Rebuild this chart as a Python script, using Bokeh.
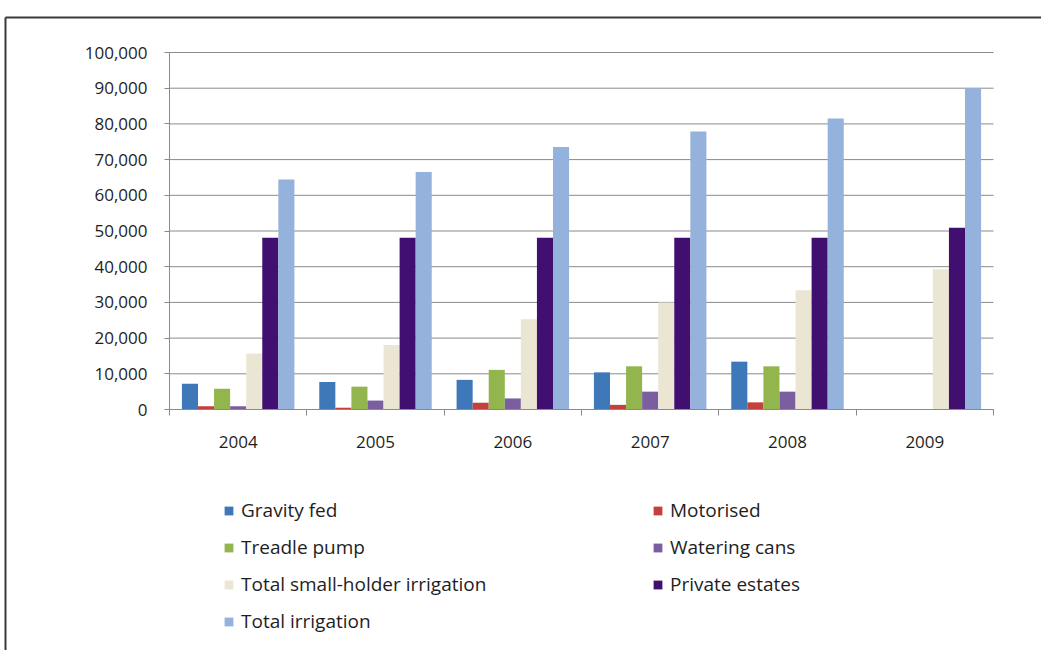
from bokeh.plotting import figure
from bokeh.models import (ColumnDataSource, FixedTicker, NumeralTickFormatter,
                          Legend, LegendItem)
from bokeh.transform import dodge
from bokeh.embed import file_html
from bokeh.resources import INLINE

# ---------------- data ----------------
years = ["2004", "2005", "2006", "2007", "2008", "2009"]
gravity_fed = [7200, 7700, 8300, 10400, 13400, 0]
motorised = [900, 500, 1900, 1300, 2000, 0]
treadle_pump = [5800, 6400, 11100, 12100, 12100, 0]
watering_cans = [900, 2500, 3100, 5000, 5000, 0]
small_holder = [15700, 18100, 25300, 30000, 33400, 39300]
private_estates = [48100, 48100, 48100, 48100, 48100, 50900]
total_irrigation = [64400, 66500, 73500, 77900, 81500, 90000]
y_ticks = [0, 10000, 20000, 30000, 40000, 50000, 60000, 70000, 80000, 90000, 100000]

series_names = ["Gravity fed", "Motorised", "Treadle pump", "Watering cans",
                "Total small-holder irrigation", "Private estates", "Total irrigation"]
series_values = [gravity_fed, motorised, treadle_pump, watering_cans,
                 small_holder, private_estates, total_irrigation]
series_colors = ["#3f78b9", "#c4403c", "#93b54e", "#7a5ea0",
                 "#ebe5d4", "#400f6f", "#94b2dc"]

FONT = "Open Sans"

# ---------------- layout (pixels) ----------------
W, H = 1041, 650
PLOT_L, PLOT_R, PLOT_T, ZERO_Y = 169, 993, 52, 409
BORDER_X, BORDER_Y = 5, 17
n = len(years)
x_lo, x_hi = -0.5, n - 0.5
ppx = (PLOT_R - PLOT_L) / (x_hi - x_lo)
x_min = x_lo - PLOT_L / ppx
x_max = x_hi + (W - PLOT_R) / ppx
y_top = y_ticks[-1]
ppy = (ZERO_Y - PLOT_T) / y_top
y_max = y_top + PLOT_T / ppy
y_min = -(H - ZERO_Y) / ppy

def px_to_x(px):
    return x_min + px / ppx

def py_to_y(py):
    return y_max - py / ppy

xs = list(range(n))
data = {"x": xs}
keys = []
for i, vals in enumerate(series_values):
    k = "s%d" % i
    keys.append(k)
    data[k] = vals
source = ColumnDataSource(data)

p = figure(width=W, height=H, x_range=(x_min, x_max), y_range=(y_min, y_max),
           output_backend="svg", toolbar_location=None,
           min_border_left=0, min_border_right=0, min_border_top=0, min_border_bottom=0)
p.border_fill_color = "white"
p.background_fill_color = "white"
p.outline_line_color = None
p.xgrid.visible = False
p.ygrid.visible = False

# outer frame of the picture (left and top edges)
bx, by = px_to_x(BORDER_X), py_to_y(BORDER_Y)
p.segment(x0=[bx, bx], y0=[by, by], x1=[x_max + 1, bx], y1=[by, y_min - 10000],
          line_color="#3a3a3a", line_width=2)

# horizontal gridlines across the plot area
p.segment(x0=[x_lo] * len(y_ticks), x1=[x_hi] * len(y_ticks), y0=y_ticks, y1=y_ticks,
          line_color="#8a8a8a", line_width=1)

bw = 0.117
renderers = []
for i, k in enumerate(keys):
    off = (i - 3) * bw
    r = p.vbar(x=dodge("x", off, range=p.x_range), top=k, width=bw, bottom=0,
               source=source, fill_color=series_colors[i], line_color=None)
    renderers.append(r)

# y axis at the left edge of the groups
ya = p.yaxis[0]
ya.fixed_location = x_lo
ya.bounds = (0, y_top)
ya.ticker = FixedTicker(ticks=y_ticks)
ya.formatter = NumeralTickFormatter(format="0,0")
ya.axis_line_color = "#8a8a8a"
ya.major_tick_line_color = "#8a8a8a"
ya.major_tick_in = 0
ya.major_tick_out = 5
ya.minor_tick_line_color = None
ya.major_label_standoff = 17
ya.major_label_text_font = FONT
ya.major_label_text_font_size = "17px"
ya.major_label_text_color = "#1e1e1e"

# x axis at value 0: labels at group centres, ticks at group boundaries
bounds = [i - 0.5 for i in range(n + 1)]
xa = p.xaxis[0]
xa.fixed_location = 0
xa.bounds = (x_lo, x_hi)
xa.ticker = FixedTicker(ticks=xs, minor_ticks=bounds)
xa.major_label_overrides = {i: y for i, y in zip(xs, years)}
xa.major_tick_line_color = None
xa.major_tick_in = 0
xa.major_tick_out = 0
xa.minor_tick_line_color = "#8a8a8a"
xa.minor_tick_in = 0
xa.minor_tick_out = 6
xa.axis_line_color = "#8a8a8a"
xa.major_label_standoff = 20
xa.major_label_text_font = FONT
xa.major_label_text_font_size = "17px"
xa.major_label_text_color = "#1e1e1e"

def make_legend(idx, loc):
    return Legend(items=[LegendItem(label=series_names[i], renderers=[renderers[i]]) for i in idx],
                  location=loc, orientation="vertical",
                  padding=0, margin=0, spacing=11,
                  glyph_width=11, glyph_height=11, label_standoff=7, label_height=26,
                  label_text_font=FONT, label_text_font_size="19px",
                  label_text_color="#1e1e1e",
                  background_fill_alpha=0, border_line_color=None)

p.add_layout(make_legend([0, 2, 4, 6], (223, 16)), "center")
p.add_layout(make_legend([1, 3, 5], (652, 53)), "center")

open("out.html", "w").write(file_html(p, INLINE))
